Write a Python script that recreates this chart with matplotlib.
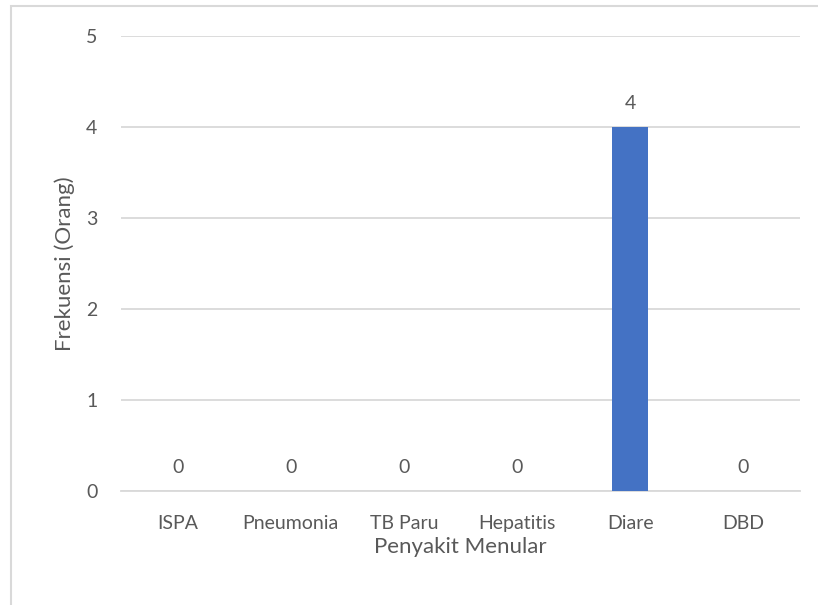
import matplotlib
matplotlib.use("Agg")
import matplotlib.pyplot as plt
from matplotlib.patches import Rectangle

penyakit = ["ISPA", "Pneumonia", "TB Paru", "Hepatitis", "Diare", "DBD"]
frekuensi = [0, 0, 0, 0, 4, 0]
y_ticks = [0, 1, 2, 3, 4, 5]

TXT = "#595959"
plt.rcParams["font.family"] = ["Lato", "DejaVu Sans"]

W, H = 818, 605
fig = plt.figure(figsize=(W / 100, H / 100), dpi=100)
fig.patch.set_facecolor("white")
# chart frame (only top/left edges fall inside the canvas)
fig.patches.append(Rectangle((11 / W, -0.1), 1.2, 1.1 - 6 / H,
                             transform=fig.transFigure, fill=False,
                             edgecolor="#d9d9d9", lw=1.5))

ax = fig.add_axes([121 / W, 1 - 491 / H, (800 - 121) / W, (491 - 36) / H])
x = range(len(penyakit))
bars = ax.bar(x, frekuensi, width=0.32, color="#4472C4", zorder=3)
for b, v in zip(bars, frekuensi):
    ax.text(b.get_x() + b.get_width() / 2, v + 0.17, f"{v}", ha="center",
            va="bottom", color=TXT, fontsize=14)

ax.set_xlim(-0.5, len(penyakit) - 0.5)
ax.set_ylim(0, 5)
ax.set_yticks(y_ticks)
ax.set_xticks(list(x))
ax.set_xticklabels(penyakit)
ax.tick_params(length=0, colors=TXT, labelsize=14)
ax.tick_params(axis="y", pad=17)
ax.tick_params(axis="x", pad=17)
ax.grid(axis="y", color="#d9d9d9", lw=1.3, zorder=0)
for s in ["top", "right", "left"]:
    ax.spines[s].set_visible(False)
ax.spines["bottom"].set_color("#d9d9d9")
ax.spines["bottom"].set_linewidth(1.3)
ax.set_xlabel("Penyakit Menular", color=TXT, fontsize=16, labelpad=4)
ax.set_ylabel("Frekuensi (Orang)", color=TXT, fontsize=16, labelpad=8)

fig.savefig("out.png", dpi=100, facecolor="white")
